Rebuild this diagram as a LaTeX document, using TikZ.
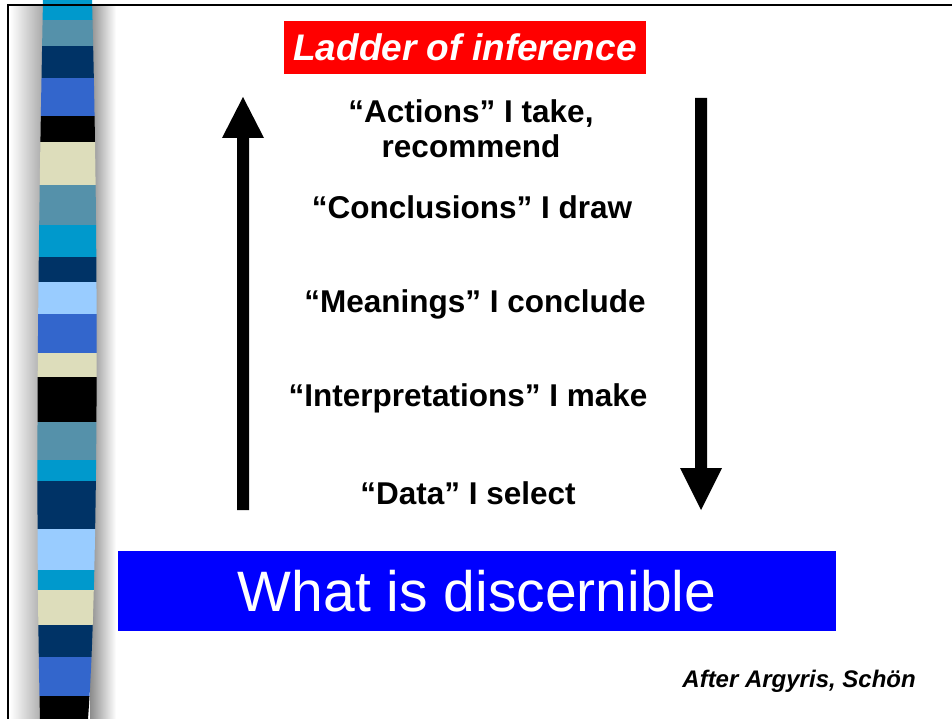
\documentclass[tikz,border=0pt]{standalone}
\usepackage{fontspec}
\setmainfont{Liberation Sans}
\definecolor{sCyan}{RGB}{0,153,204}
\definecolor{sSteel}{RGB}{85,145,170}
\definecolor{sNavy}{RGB}{0,51,102}
\definecolor{sRoyal}{RGB}{51,102,204}
\definecolor{sBeige}{RGB}{221,221,187}
\definecolor{sLight}{RGB}{153,204,255}
\definecolor{sBlack}{RGB}{0,0,0}
\tikzset{
  rung/.style={font=\fontsize{31.5}{35}\selectfont\bfseries, align=center, inner sep=0pt},
  bigarrow/.style={fill=black, draw=none},
}
\begin{document}
\begin{tikzpicture}[x=1pt,y=-1pt]
\useasboundingbox (0,0) rectangle (952,719);
\fill[white] (0,0) rectangle (952,719);
% shadows of the bar
\shade[left color=white, right color=black!35] (10,5) rectangle (44,719);
\shade[left color=black!45, right color=white] (90,5) rectangle (116,719);
% striped bar
\begin{scope}
\clip (43,0) .. controls (38,250) and (35,500) .. (40,719) -- (88,719) .. controls (97,600) and (100,300) .. (92,0) -- cycle;
\foreach \ya/\yb/\c in {0/20/sCyan,20/46/sSteel,46/78/sNavy,78/116/sRoyal,116/142/sBlack,142/185/sBeige,185/225/sSteel,225/257/sCyan,257/282/sNavy,282/314/sLight,314/353/sRoyal,353/377/sBeige,377/422/sBlack,422/460/sSteel,460/481/sCyan,481/529/sNavy,529/570/sLight,570/590/sCyan,590/625/sBeige,625/657/sNavy,657/696/sRoyal,696/719/sBlack}
  \fill[\c] (30,\ya) rectangle (110,\yb);
\end{scope}
% frame
\draw[line width=2pt] (8,719) -- (8,5) -- (952,5);
% title
\node[fill=red, text=white, font=\fontsize{37}{42}\selectfont\bfseries\itshape, minimum width=362pt, minimum height=53pt, inner sep=0pt] (title) at (465,47.5) {Ladder of inference};
% rungs
\node[rung] (actions) at (471,129) {“Actions” I take,\\ recommend};
\node[rung] (concl) at (472,207) {“Conclusions” I draw};
\node[rung] (mean) at (475,304) {“Meanings” I conclude};
\node[rung] (interp) at (468,398) {“Interpretations” I make};
\node[rung] (data) at (468,493) {“Data” I select};
% arrows
\fill[bigarrow] (237,510) -- (237,138) -- (222,138) -- (243,97) -- (264,138) -- (249,138) -- (249,510) -- cycle;
\fill[bigarrow] (695,98) -- (695,468) -- (680,468) -- (701,510) -- (722,468) -- (707,468) -- (707,98) -- cycle;
% base box
\node[fill=blue, text=white, font=\fontsize{57}{64}\selectfont, minimum width=718pt, minimum height=80pt, inner sep=0pt] (base) at (477,591) {\raisebox{-2pt}{What is discernible}};
% credit
\node[font=\fontsize{24}{28}\selectfont\bfseries\itshape, anchor=east, inner sep=0pt] (credit) at (916,681) {After Argyris, Schön};
\end{tikzpicture}
\end{document}
